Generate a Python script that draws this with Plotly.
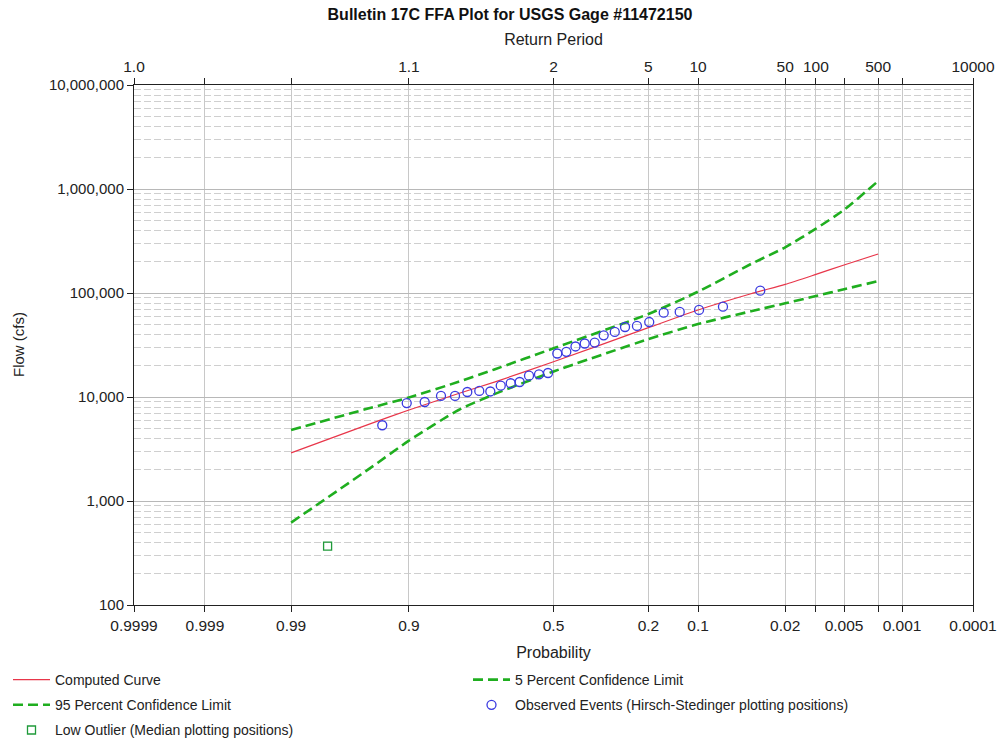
import plotly.graph_objects as go
from statistics import NormalDist

# ---- data (exceedance probabilities and flows, cfs) ----
curve_prob = [0.99, 0.95, 0.9, 0.8, 0.7, 0.5, 0.2, 0.1, 0.04, 0.02, 0.01, 0.005, 0.002]
computed_flow = [2900, 5420, 7500, 10800, 13900, 21800, 46400, 68700, 98400, 121000, 151000, 186000, 237000]
upper5_flow = [4820, 7740, 9900, 14000, 18400, 29400, 62800, 103000, 190000, 275000, 415000, 630000, 1193000]
lower95_flow = [620, 2000, 3800, 7500, 10650, 17600, 36000, 50300, 66700, 79600, 93500, 108700, 130000]

obs_prob = [0.9355, 0.9034, 0.8733, 0.8407, 0.8087, 0.7776, 0.7447, 0.7123, 0.680, 0.6478,
            0.6179, 0.5859, 0.5512, 0.5194, 0.4866, 0.4548, 0.4227, 0.391, 0.3575, 0.3282,
            0.2935, 0.263, 0.2297, 0.198, 0.1643, 0.1316, 0.0985, 0.0665, 0.0334]
obs_flow = [5350, 8750, 8950, 10230, 10230, 11170, 11430, 11300, 12860, 13560,
            13940, 16020, 16520, 17010, 26200, 27200, 30600, 32700, 33400, 39200,
            42200, 47100, 48200, 52600, 64700, 65700, 68700, 73900, 105200]

outlier_prob = [0.9774]
outlier_flow = [369]

prob_ticks = [0.9999, 0.999, 0.99, 0.9, 0.5, 0.2, 0.1, 0.02, 0.01, 0.005, 0.002, 0.001, 0.0001]
prob_labels = ["0.9999", "0.999", "0.99", "0.9", "0.5", "0.2", "0.1", "0.02", "", "0.005", "", "0.001", "0.0001"]
rp_labels = ["1.0", "", "", "1.1", "2", "5", "10", "50", "100", "", "500", "", "10000"]
flow_ticks = [100, 1000, 10000, 100000, 1000000, 10000000]
flow_labels = ["100", "1,000", "10,000", "100,000", "1,000,000", "10,000,000"]

# ---- probability scale (standard normal quantile of non-exceedance) ----
nd = NormalDist()
def pz(p):
    return nd.inv_cdf(1 - p)

minor_vals = [m * 10 ** e for e in range(2, 7) for m in range(2, 10)]

FONT = "Liberation Sans, Arial, sans-serif"
GREEN = "#1fae1f"
DASH = "10px,5px"
W, H = 999, 740
ML, MR, MT, MB = 134, 26, 85, 135

fig = go.Figure()
fig.add_trace(go.Scatter(
    x=[pz(p) for p in curve_prob], y=computed_flow, mode="lines",
    name="Computed Curve", legend="legend", legendgroup="a",
    line=dict(color="#e8364a", width=1.2, shape="spline", smoothing=0.6)))
fig.add_trace(go.Scatter(
    x=[pz(p) for p in curve_prob], y=upper5_flow, mode="lines",
    name="5 Percent Confidence Limit", legend="legend2", legendgroup="b",
    line=dict(color=GREEN, width=2.6, dash=DASH, shape="spline", smoothing=0.6)))
fig.add_trace(go.Scatter(
    x=[pz(p) for p in curve_prob], y=lower95_flow, mode="lines",
    name="95 Percent Confidence Limit", legend="legend", legendgroup="c",
    line=dict(color=GREEN, width=2.6, dash=DASH, shape="spline", smoothing=0.6)))
fig.add_trace(go.Scatter(
    x=[pz(p) for p in obs_prob], y=obs_flow, mode="markers",
    name="Observed Events (Hirsch-Stedinger plotting positions)", legend="legend2", legendgroup="d",
    marker=dict(symbol="circle-open", size=9, color="#3a3ae0", line=dict(width=1.3))))
fig.add_trace(go.Scatter(
    x=[pz(p) for p in outlier_prob], y=outlier_flow, mode="markers",
    name="Low Outlier (Median plotting positions)", legend="legend", legendgroup="e",
    marker=dict(symbol="square-open", size=8, color="#1f9a3a", line=dict(width=1.3))))
# invisible trace to carry the top (return period) axis
fig.add_trace(go.Scatter(x=[pz(0.5)], y=[1000], xaxis="x2", mode="markers",
                         marker=dict(opacity=0), showlegend=False, hoverinfo="skip"))

xr = [pz(0.9999), pz(0.0001)]
tv = [pz(p) for p in prob_ticks]

leg_common = dict(orientation="v", xref="container", yref="container", xanchor="left",
                  yanchor="top", y=(H - 664) / H, font=dict(size=14, color="#222"),
                  itemwidth=37, tracegroupgap=4, bgcolor="rgba(0,0,0,0)", traceorder="grouped")

fig.update_layout(
    width=W, height=H,
    margin=dict(l=ML, r=MR, t=MT, b=MB, autoexpand=False),
    paper_bgcolor="white", plot_bgcolor="white",
    font=dict(family=FONT, size=13, color="#222"),
    title=dict(text="<b>Bulletin 17C FFA Plot for USGS Gage #11472150</b>",
               x=510 / W, xanchor="center", xref="container", yref="container",
               y=1 - 8.5 / H, yanchor="top",
               font=dict(size=16, color="#111")),
    showlegend=True,
    legend=dict(x=8 / W, **leg_common),
    legend2=dict(x=468 / W, **leg_common),
    xaxis=dict(range=xr, tickvals=tv, ticktext=prob_labels, showgrid=True,
               gridcolor="#c8c8c8", gridwidth=1, zeroline=False, automargin=False,
               showline=True, linecolor="#222", linewidth=1,
               ticks="outside", ticklen=6, tickcolor="#222",
               title=dict(text="Probability", font=dict(size=16), standoff=14),
               tickfont=dict(size=15.5)),
    xaxis2=dict(range=xr, tickvals=tv, ticktext=rp_labels, overlaying="x", side="top",
                showgrid=False, zeroline=False, showline=True, linecolor="#222", linewidth=1,
                automargin=False, ticks="outside", ticklen=6, tickcolor="#222",
                title=dict(text="Return Period", font=dict(size=16), standoff=8),
                tickfont=dict(size=15.5)),
    yaxis=dict(type="log", range=[2, 7], tickvals=flow_ticks, ticktext=flow_labels,
               showgrid=True, gridcolor="#b8b8b8", gridwidth=1, zeroline=False,
               showline=True, linecolor="#222", linewidth=1, mirror=True, automargin=False,
               ticks="outside", ticklen=6, tickcolor="#222",
               tickfont=dict(size=15),
               minor=dict(tickvals=minor_vals, showgrid=True, gridcolor="#cfcfcf",
                          griddash="7px,3px", gridwidth=1, ticks="")),
    annotations=[dict(text="Flow (cfs)", textangle=-90, xref="paper", yref="paper",
                      x=(18 - ML) / (W - ML - MR), y=0.5, xanchor="center", yanchor="middle",
                      showarrow=False, font=dict(size=15, color="#222"))],
)

fig.write_html("out.html", config={"displayModeBar": False},
               post_script="document.body.style.margin='0';document.body.style.overflow='hidden';")
